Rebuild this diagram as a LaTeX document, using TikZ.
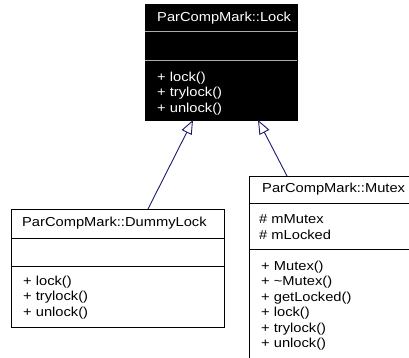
\documentclass[tikz,border=0pt]{standalone}
\usepackage{fontspec}
\setmainfont[FakeStretch=1.13]{Liberation Sans}
\usetikzlibrary{arrows.meta}
\definecolor{edgeblue}{HTML}{191970}

\begin{document}
\begin{tikzpicture}[x=1pt, y=-1pt,
		every node/.style={font=\fontsize{13}{15.5}\selectfont, inner sep=0pt},
		classbox/.style={draw=black, fill=white, line width=1pt, anchor=north west},
		basebox/.style={draw=black, fill=black, line width=1pt, anchor=north west},
		rowtext/.style={anchor=west},
		listtext/.style={anchor=north west, align=left},
		inherit/.style={draw=edgeblue, line width=0.9pt, -{Triangle[open, length=14pt, width=11pt, fill=white]}}]
	\useasboundingbox (0,0) rectangle (409,358);
	
	% Draw the base class
	\node[basebox, minimum width=152, minimum height=116] (lock) at (145,4) {};
	\draw[gray!65, line width=1pt] (145,32) -- (297,32);
	\draw[gray!65, line width=1pt] (145,61) -- (297,61);
	\node[rowtext, text=white] (lockName) at (157,18) {ParCompMark::Lock};
	\node[listtext, text=white] (lockOps) at (157,71.5) {+ lock()\\+ trylock()\\+ unlock()};
	
	% Draw the dummy lock class
	\node[classbox, minimum width=213, minimum height=118] (dummy) at (11,209) {};
	\draw[line width=1pt] (11,238) -- (224,238);
	\draw[line width=1pt] (11,266) -- (224,266);
	\node[rowtext] (dummyName) at (22,223.5) {ParCompMark::DummyLock};
	\node[listtext] (dummyOps) at (23,275.5) {+ lock()\\+ trylock()\\+ unlock()};
	
	% Draw the mutex class
	\node[classbox, minimum width=159.5, minimum height=186] (mutex) at (249,176) {};
	\draw[line width=1pt] (249,203) -- (408.5,203);
	\draw[line width=1pt] (249,249) -- (408.5,249);
	\node[rowtext] (mutexName) at (262,189.5) {ParCompMark::Mutex};
	\node[listtext] (mutexAttrs) at (259,214.5) {\# mMutex\\\# mLocked};
	\node[listtext] (mutexOps) at (261,260.5) {+ Mutex()\\+ \textasciitilde Mutex()\\+ getLocked()\\+ lock()\\+ trylock()\\+ unlock()};
	
	% Inheritance arrows
	\coordinate (dummyUp) at (148,209);
	\coordinate (mutexUp) at (287,176);
	\coordinate (lockInA) at (193,120);
	\coordinate (lockInB) at (258,120);
	\draw[inherit] (dummyUp) -- (lockInA);
	\draw[inherit] (mutexUp) -- (lockInB);
\end{tikzpicture}
\end{document}
